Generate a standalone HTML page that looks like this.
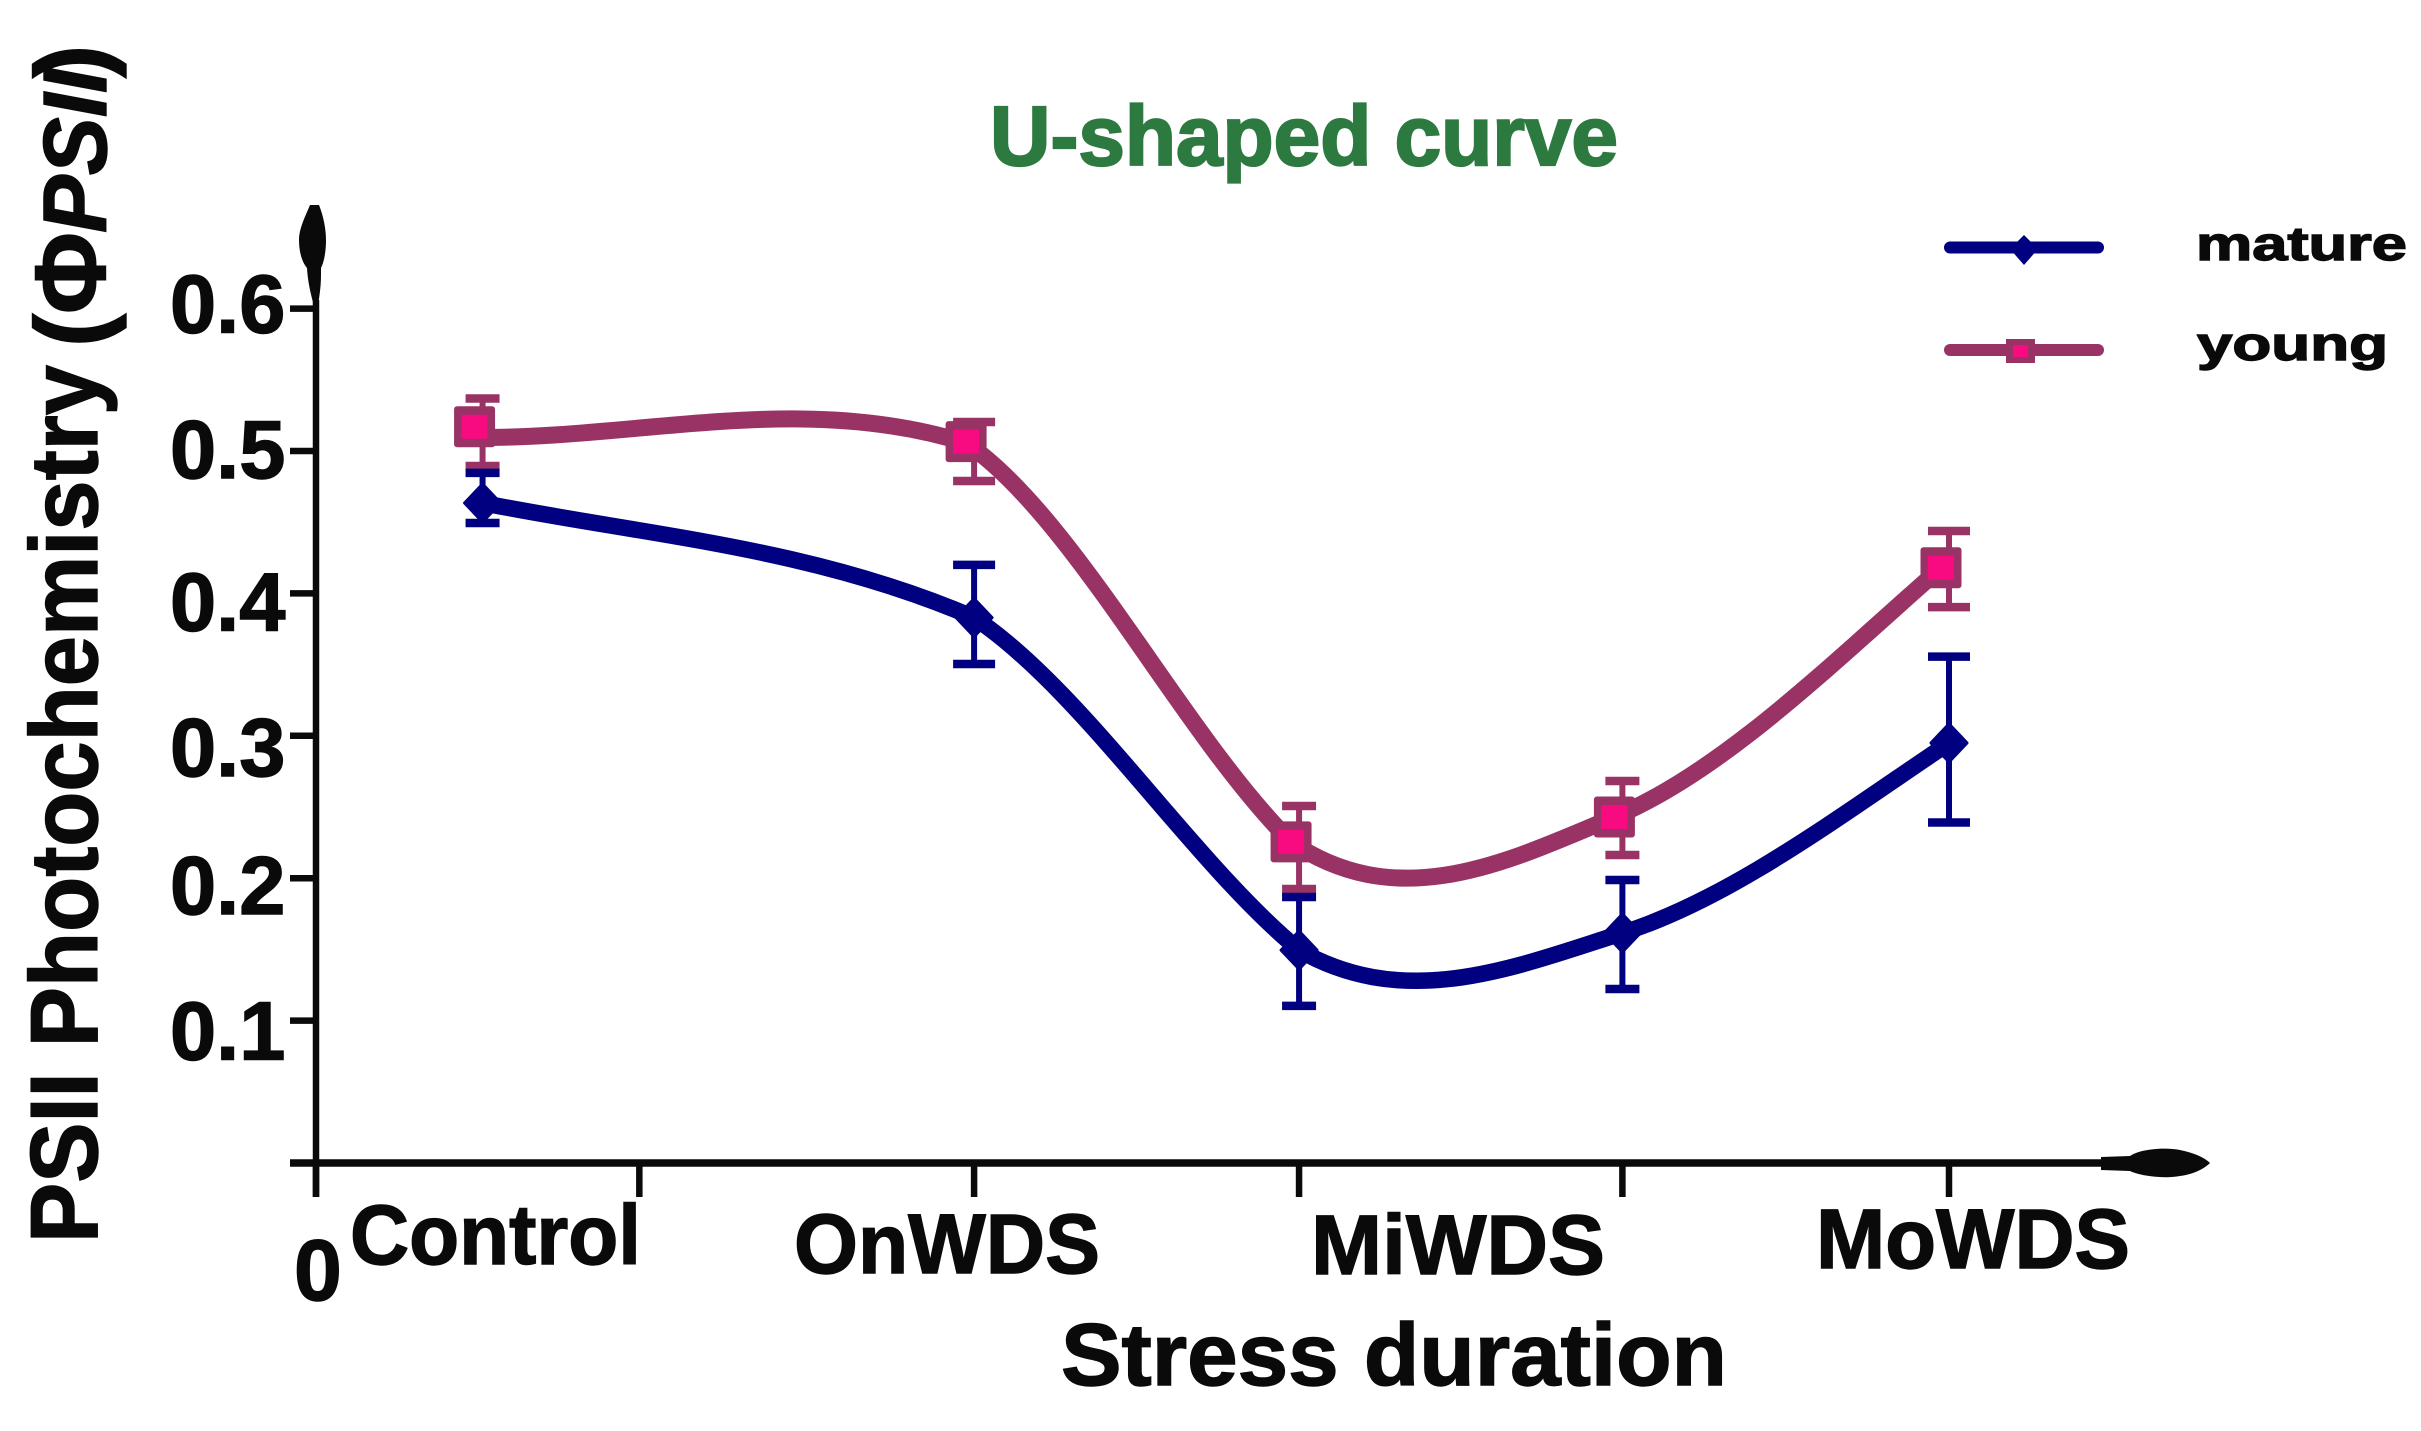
<!DOCTYPE html>
<html lang="en">
<head>
<meta charset="utf-8">
<title>U-shaped curve</title>
<style>
html,body{margin:0;padding:0;background:#fff;width:2421px;height:1431px;overflow:hidden}
svg{display:block}
text{font-family:"Liberation Sans",sans-serif;font-weight:bold;fill:#0a0a0a;stroke:#0a0a0a;stroke-width:1.4px}
</style>
</head>
<body>
<svg id="chart" xmlns="http://www.w3.org/2000/svg" width="2421" height="1431" viewBox="0 0 2421 1431">
  <rect x="0" y="0" width="2421" height="1431" fill="#fff"/>
  <text x="990" y="165" font-size="84" textLength="628" lengthAdjust="spacingAndGlyphs" style="fill:#2c7a40;stroke:#2c7a40;stroke-width:2.2px">U-shaped curve</text>

  <g>
    <text transform="translate(97,1243) rotate(-90)" font-size="96" textLength="878" lengthAdjust="spacingAndGlyphs">PSII Photochemistry</text>
    <text transform="translate(105,347) rotate(-90)" font-size="100">(</text>
    <text transform="translate(105,314) rotate(-90)" font-size="100" textLength="82" lengthAdjust="spacingAndGlyphs">Φ</text>
    <text transform="translate(106,233) rotate(-90)" font-size="90" font-style="italic" textLength="164" lengthAdjust="spacingAndGlyphs">PSII</text>
    <text transform="translate(105,78) rotate(-90)" font-size="100">)</text>
  </g>

  <g id="axes">
    <line x1="316" y1="300" x2="316" y2="1197" stroke="#0a0a0a" stroke-width="6.5"/>
    <line x1="290" y1="1163" x2="2110" y2="1163" stroke="#0a0a0a" stroke-width="7.5"/>
    <path d="M310 205 L319 205 C323 215 326 228 326 240 C326 252 324 262 321 268 L321 275 C321 288 319 298 318 306 L314 306 C312 298 308 285 307 268 C302 262 299 252 299 240 C299 228 306 215 310 205 Z" fill="#0a0a0a"/>
    <path d="M2101 1157 L2130 1156 C2140 1149 2165 1147 2180 1150 C2195 1153 2205 1158 2210 1163 C2205 1168 2195 1174 2180 1176 C2165 1179 2140 1176 2130 1171 L2101 1170 Z" fill="#0a0a0a"/>
  </g>

  <text x="294" y="1300" font-size="86">0</text>
  <text x="350" y="1264" font-size="84" textLength="291" lengthAdjust="spacingAndGlyphs">Control</text>
  <text x="794" y="1273" font-size="84" textLength="306" lengthAdjust="spacingAndGlyphs">OnWDS</text>
  <text x="1311" y="1274" font-size="84" textLength="294" lengthAdjust="spacingAndGlyphs">MiWDS</text>
  <text x="1816" y="1268" font-size="84" textLength="314" lengthAdjust="spacingAndGlyphs">MoWDS</text>
  <text x="1061" y="1385" font-size="88" textLength="666" lengthAdjust="spacingAndGlyphs">Stress duration</text>

  <g>
    <g>
      <line x1="1950" y1="247.5" x2="2098" y2="247.5" stroke="#000080" stroke-width="12" stroke-linecap="round"/>
      <path d="M2024 235 L2038 249 L2024 265 L2010 249 Z" fill="#000080"/>
      <text x="2196" y="260" font-size="47" textLength="211" lengthAdjust="spacingAndGlyphs">mature</text>
    </g>
    <g>
      <line x1="1950" y1="350" x2="2098" y2="350" stroke="#993366" stroke-width="12" stroke-linecap="round"/>
      <rect x="2006" y="339" width="29" height="24" fill="#993366"/>
      <rect x="2013" y="345" width="15" height="12" fill="#f80a80"/>
      <text x="2197" y="360" font-size="47" textLength="191" lengthAdjust="spacingAndGlyphs">young</text>
    </g>
  </g>

  <g id="ticks"></g>
  <g id="series"></g>
</svg>
<script>
const yTickValues = [0, 0.1, 0.2, 0.3, 0.4, 0.5, 0.6];
const yTickLabels = ['', '0.1', '0.2', '0.3', '0.4', '0.5', '0.6'];
const xTickValues = [0, 0.99, 2.015, 3.01, 4, 5];
const stressTime = [0.51, 2.015, 3.01, 4, 5];
const matureValues = [0.4635, 0.383, 0.1495, 0.1615, 0.295];
const matureUpper = [0.4846, 0.42, 0.1868, 0.1987, 0.3556];
const matureLower = [0.4494, 0.3504, 0.1103, 0.1222, 0.2391];
const youngLineValues = [0.5095, 0.5056, 0.2255, 0.243, 0.418];
const youngMarkerValues = [0.517, 0.5066, 0.2255, 0.243, 0.418];
const youngUpper = [0.5369, 0.5204, 0.2507, 0.2683, 0.4438];
const youngLower = [0.4895, 0.4789, 0.1924, 0.2163, 0.3904];

const SVGNS = 'http://www.w3.org/2000/svg';
function xScale(t) { return 316 + 326.6 * t; }
function yScale(v) { return 1163 - 1424 * v; }
function yLabelBaseline(v) { return 1205 - 1454 * v + (v > 0.25 && v < 0.45 ? 7 : 0); }

function make(parent, tag, props) {
  const node = document.createElementNS(SVGNS, tag);
  Object.keys(props).forEach(function (k) { node.setAttribute(k, props[k]); });
  parent.appendChild(node);
  return node;
}

/* Smoothed curve through the knots; the fitted graph has slightly different
   slopes arriving at and leaving each interior knot. */
function curvePath(xs, ys) {
  const incoming = [0, 0.25, 0.18, 0.5, 0];
  const outgoing = [0, 0.55, 0.42, 0.5, 0];
  const n = xs.length;
  const seg = [];
  for (let i = 0; i < n - 1; i++) {
    seg.push((ys[i + 1] - ys[i]) / (xs[i + 1] - xs[i]));
  }
  let path = 'M' + xs[0] + ' ' + ys[0];
  for (let i = 0; i < n - 1; i++) {
    const h = xs[i + 1] - xs[i];
    const startSlope = i === 0 ? seg[0] * 0.85 : seg[i - 1] + outgoing[i] * (seg[i] - seg[i - 1]);
    const endSlope = i === n - 2 ? seg[i] * 1.15 : seg[i] + incoming[i + 1] * (seg[i + 1] - seg[i]);
    path += ' C' + (xs[i] + h / 3) + ' ' + (ys[i] + startSlope * h / 3) + ' ' +
      (xs[i + 1] - h / 3) + ' ' + (ys[i + 1] - endSlope * h / 3) + ' ' +
      xs[i + 1] + ' ' + ys[i + 1];
  }
  return path;
}

const tickLayer = document.getElementById('ticks');
yTickValues.forEach(function (v, i) {
  const tick = make(tickLayer, 'line', { x1: 290, x2: 316, y1: yScale(v), y2: yScale(v), stroke: '#0a0a0a', 'stroke-width': 6.5 });
  
  
  if (yTickLabels[i]) {
    const label = make(tickLayer, 'text', { x: 170, y: yLabelBaseline(v), 'font-size': 83 });
    
    
    label.textContent = yTickLabels[i];
  }
});
xTickValues.forEach(function (t) {
  const tick = make(tickLayer, 'line', { x1: xScale(t), x2: xScale(t), y1: 1163, y2: 1197, stroke: '#0a0a0a', 'stroke-width': 6.5 });
  
  
});

const seriesLayer = document.getElementById('series');

function drawErrorBars(parent, upper, lower, color) {
  stressTime.forEach(function (t, i) {
    const cx = xScale(t);
    const top = yScale(upper[i]);
    const bottom = yScale(lower[i]);
    const half = (i === 1 || i === 4) ? 21 : 17;
    const stem = make(parent, 'line', { x1: cx, x2: cx, y1: top, y2: bottom, stroke: color, 'stroke-width': 6 });
    
    
    const capTop = make(parent, 'line', { x1: cx - half, x2: cx + half, y1: top, y2: top, stroke: color, 'stroke-width': 8.5 });
    
    
    const capBottom = make(parent, 'line', { x1: cx - half, x2: cx + half, y1: bottom, y2: bottom, stroke: color, 'stroke-width': 8.5 });
    
    
  });
}

const youngGroup = make(seriesLayer, 'g', {});


const matureGroup = make(seriesLayer, 'g', {});



const YOUNG_SHIFT = -8;

drawErrorBars(youngGroup, youngUpper, youngLower, '#993366');
const youngLine = make(youngGroup, 'path', {
  d: curvePath(stressTime.map(function (t) { return xScale(t) + YOUNG_SHIFT; }), youngLineValues.map(yScale)),
  fill: 'none', stroke: '#993366', 'stroke-width': 17
});


stressTime.forEach(function (t, i) {
  const cx = xScale(t) + YOUNG_SHIFT;
  const cy = yScale(youngMarkerValues[i]);
  const outer = make(youngGroup, 'rect', { x: cx - 20.5, y: cy - 20.5, width: 41, height: 41, rx: 3, fill: '#993366' });
  
  
  const inner = make(youngGroup, 'rect', { x: cx - 13, y: cy - 12, width: 26, height: 24, fill: '#f80a80' });
  
  
});

drawErrorBars(matureGroup, matureUpper, matureLower, '#000080');
const matureLine = make(matureGroup, 'path', {
  d: curvePath(stressTime.map(xScale), matureValues.map(yScale)),
  fill: 'none', stroke: '#000080', 'stroke-width': 16.5
});


stressTime.forEach(function (t, i) {
  const cx = xScale(t);
  const cy = yScale(matureValues[i]);
  const diamond = make(matureGroup, 'path', {
    d: 'M' + cx + ' ' + (cy - 19) + ' L' + (cx + 18) + ' ' + cy + ' L' + cx + ' ' + (cy + 19) + ' L' + (cx - 18) + ' ' + cy + ' Z',
    fill: '#000080', stroke: '#000080', 'stroke-width': 3, 'stroke-linejoin': 'round'
  });
  
  
});
</script>
</body>
</html>
